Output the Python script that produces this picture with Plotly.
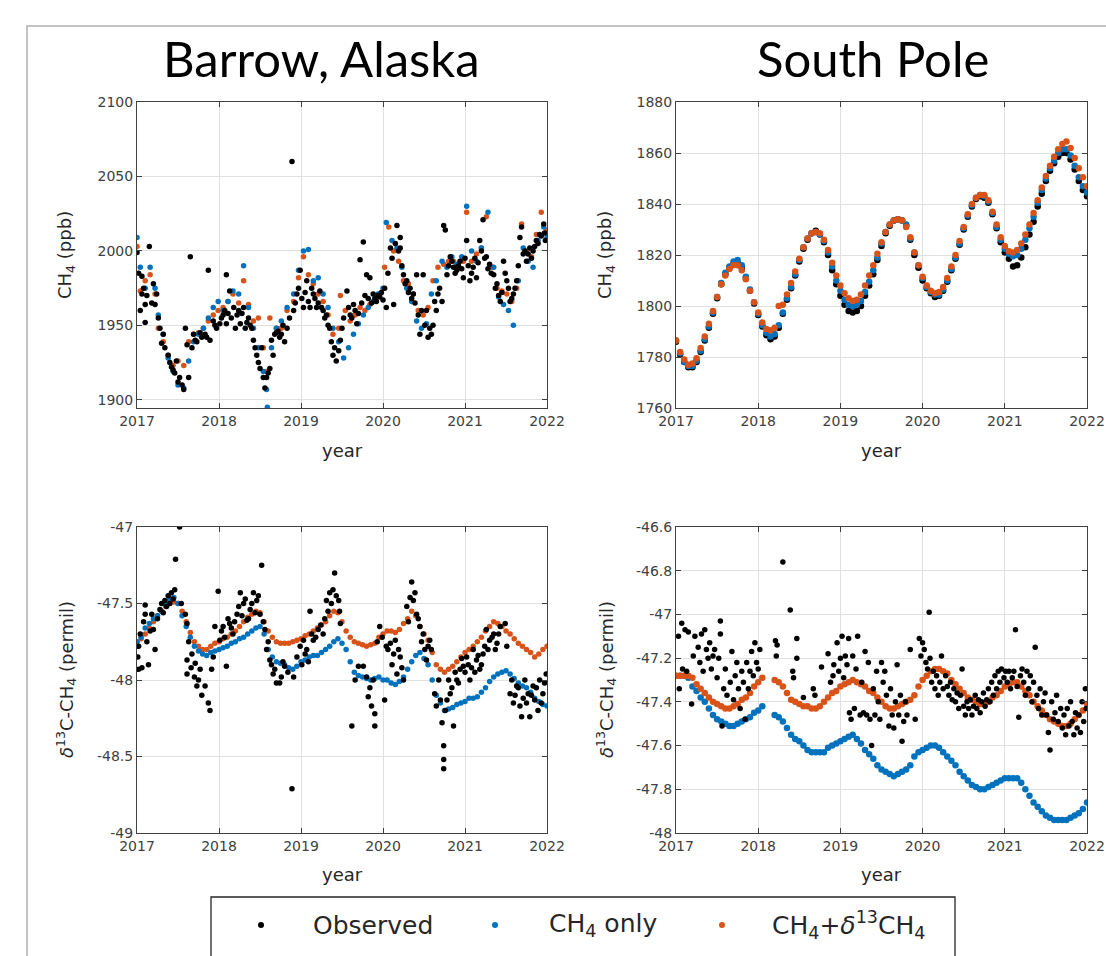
import plotly.graph_objects as go

# ---------------- DATA ----------------
years_tick = [2017, 2018, 2019, 2020, 2021, 2022]

# Barrow CH4 (ppb): (year, value)
brw_ch4_obs = [
    (2017.00, 1999), (2017.06, 1983), (2017.06, 1971), (2017.10, 1964), (2017.10, 1952), (2017.15, 2003),
    (2017.20, 1978), (2017.22, 1964), (2017.24, 1971), (2017.28, 1948), (2017.30, 1938), (2017.32, 1944),
    (2017.38, 1930), (2017.42, 1922), (2017.46, 1918), (2017.48, 1926), (2017.52, 1915), (2017.57, 1907),
    (2017.59, 1948), (2017.61, 1937), (2017.63, 1915), (2017.65, 1996), (2017.69, 1944), (2017.73, 1939),
    (2017.79, 1942), (2017.83, 1944), (2017.87, 1987), (2017.89, 1940), (2017.93, 1953), (2017.97, 1948),
    (2018.01, 1951), (2018.05, 1957), (2018.09, 1984), (2018.09, 1951), (2018.13, 1973), (2018.15, 1955),
    (2018.20, 1948), (2018.22, 1957), (2018.26, 1951), (2018.30, 1962), (2018.32, 1948), (2018.36, 1955),
    (2018.40, 1948), (2018.44, 1935), (2018.46, 1930), (2018.50, 1921), (2018.52, 1935), (2018.56, 1908),
    (2018.58, 1915), (2018.62, 1921), (2018.66, 1930), (2018.68, 1944), (2018.72, 1946), (2018.76, 1944),
    (2018.80, 1939), (2018.83, 1948), (2018.89, 2060), (2018.91, 1960), (2018.95, 1971), (2018.99, 1987),
    (2019.03, 1962), (2019.07, 1980), (2019.11, 1962), (2019.15, 1971), (2019.19, 1962), (2019.23, 1973),
    (2019.27, 1960), (2019.31, 1957), (2019.35, 1948), (2019.37, 1939), (2019.41, 1935), (2019.43, 1926),
    (2019.46, 1933), (2019.50, 1948), (2019.56, 1973), (2019.60, 1957), (2019.64, 1964), (2019.68, 1951),
    (2019.72, 1994), (2019.76, 2006), (2019.80, 1984), (2019.84, 1982), (2019.88, 1971), (2019.92, 1966),
    (2019.96, 1969), (2020.00, 1967), (2020.04, 1962), (2020.09, 2002), (2020.13, 1964), (2020.17, 2017),
    (2020.21, 2009), (2020.21, 2002), (2020.25, 1984), (2020.29, 1980), (2020.33, 1975), (2020.37, 1971),
    (2020.41, 1984), (2020.43, 1957), (2020.45, 1944), (2020.49, 1984), (2020.53, 1960), (2020.55, 1942),
    (2020.57, 1948), (2020.59, 1944), (2020.63, 1966), (2020.67, 1971), (2020.72, 1966), (2020.74, 2017),
    (2020.76, 2014), (2020.78, 1984), (2020.82, 1996), (2020.86, 1989), (2020.90, 1987), (2020.94, 1993),
    (2020.98, 1982), (2021.02, 2007), (2021.06, 1980), (2021.10, 1989), (2021.14, 1982), (2021.18, 2007),
    (2021.22, 2021), (2021.26, 1996), (2021.30, 1991), (2021.35, 1984), (2021.39, 1978), (2021.43, 1966),
    (2021.47, 1993), (2021.51, 1980), (2021.55, 1966), (2021.59, 1971), (2021.63, 1980), (2021.67, 2009),
    (2021.69, 2016), (2021.71, 1998), (2021.75, 1993), (2021.79, 2002), (2021.83, 2000), (2021.87, 2007),
    (2021.91, 2011), (2021.96, 2018), (2021.98, 2007),
    (2017.02, 1985), (2017.04, 1960), (2017.08, 1975), (2017.12, 1970), (2017.18, 1965), (2017.26, 1955),
    (2017.34, 1935), (2017.40, 1925), (2017.44, 1920), (2017.50, 1912), (2017.55, 1910), (2017.67, 1935),
    (2017.71, 1940), (2017.77, 1945), (2017.85, 1942), (2017.95, 1950), (2018.03, 1955), (2018.07, 1960),
    (2018.11, 1958), (2018.18, 1962), (2018.24, 1960), (2018.28, 1958), (2018.34, 1952), (2018.38, 1950),
    (2018.42, 1940), (2018.48, 1925), (2018.54, 1915), (2018.60, 1918), (2018.64, 1940), (2018.70, 1945),
    (2018.74, 1942), (2018.78, 1950), (2018.86, 1955), (2018.93, 1965), (2018.97, 1975), (2019.01, 1968),
    (2019.05, 1972), (2019.09, 1966), (2019.13, 1975), (2019.17, 1968), (2019.21, 1965), (2019.25, 1962),
    (2019.29, 1955), (2019.33, 1950), (2019.39, 1930), (2019.48, 1940), (2019.52, 1955), (2019.58, 1962),
    (2019.62, 1955), (2019.66, 1960), (2019.70, 1958), (2019.74, 1965), (2019.78, 1970), (2019.82, 1968),
    (2019.86, 1965), (2019.90, 1968), (2019.94, 1970), (2019.98, 1972), (2020.02, 1975), (2020.06, 1985),
    (2020.11, 1995), (2020.15, 2005), (2020.19, 2000), (2020.23, 1990), (2020.27, 1978), (2020.31, 1972),
    (2020.35, 1968), (2020.39, 1965), (2020.47, 1960), (2020.51, 1950), (2020.61, 1950), (2020.65, 1960),
    (2020.69, 1975), (2020.80, 1990), (2020.84, 1993), (2020.88, 1985), (2020.92, 1990), (2020.96, 1988),
    (2021.00, 1995), (2021.04, 1990), (2021.08, 1985), (2021.12, 1995), (2021.16, 1992), (2021.20, 2000),
    (2021.24, 1995), (2021.28, 1988), (2021.32, 1985), (2021.37, 1975), (2021.41, 1970), (2021.45, 1972),
    (2021.49, 1985), (2021.53, 1975), (2021.57, 1968), (2021.61, 1975), (2021.65, 1990), (2021.73, 2000),
    (2021.77, 1998), (2021.81, 1995), (2021.85, 2003), (2021.89, 2005), (2021.93, 2010), (2021.97, 2012),
]
brw_ch4_only = [
    (2017.00, 2009), (2017.04, 1989), (2017.10, 1975), (2017.16, 1989), (2017.22, 1975), (2017.26, 1957),
    (2017.32, 1944), (2017.38, 1928), (2017.44, 1919), (2017.50, 1910), (2017.57, 1908), (2017.63, 1926),
    (2017.69, 1939), (2017.75, 1944), (2017.81, 1948), (2017.87, 1955), (2017.93, 1962), (2017.99, 1966),
    (2018.05, 1960), (2018.11, 1966), (2018.17, 1973), (2018.24, 1971), (2018.30, 1990), (2018.36, 1962),
    (2018.42, 1948), (2018.48, 1935), (2018.54, 1919), (2018.58, 1907), (2018.59, 1895), (2018.64, 1935),
    (2018.70, 1948), (2018.76, 1953), (2018.83, 1962), (2018.91, 1971), (2018.97, 1987), (2019.03, 2000),
    (2019.09, 2001), (2019.15, 1980), (2019.21, 1982), (2019.27, 1971), (2019.33, 1962), (2019.39, 1948),
    (2019.46, 1939), (2019.52, 1928), (2019.58, 1935), (2019.64, 1944), (2019.70, 1951), (2019.76, 1957),
    (2019.82, 1962), (2019.88, 1966), (2019.94, 1971), (2020.00, 1975), (2020.04, 2019), (2020.11, 2007),
    (2020.17, 2002), (2020.23, 1989), (2020.29, 1975), (2020.35, 1966), (2020.41, 1953), (2020.47, 1948),
    (2020.53, 1951), (2020.59, 1971), (2020.65, 1980), (2020.72, 1993), (2020.78, 1989), (2020.84, 1996),
    (2020.90, 1991), (2020.96, 1996), (2021.02, 2030), (2021.08, 2000), (2021.14, 1993), (2021.20, 2002),
    (2021.28, 2026), (2021.35, 1989), (2021.41, 1969), (2021.47, 1964), (2021.53, 1960), (2021.59, 1950),
    (2021.65, 1980), (2021.71, 2002), (2021.77, 1993), (2021.83, 1989), (2021.89, 2007), (2021.96, 2016),
    (2022.00, 2009),
]
brw_ch4_both = [
    (2017.00, 2003), (2017.04, 1973), (2017.10, 1980), (2017.16, 1984), (2017.22, 1971), (2017.26, 1948),
    (2017.32, 1939), (2017.38, 1930), (2017.44, 1923), (2017.50, 1926), (2017.57, 1923), (2017.63, 1939),
    (2017.69, 1944), (2017.75, 1945), (2017.81, 1948), (2017.87, 1953), (2017.93, 1957), (2017.99, 1960),
    (2018.05, 1962), (2018.11, 1966), (2018.17, 1971), (2018.24, 1965), (2018.30, 1980), (2018.36, 1964),
    (2018.42, 1953), (2018.48, 1955), (2018.54, 1935), (2018.58, 1919), (2018.62, 1955), (2018.70, 1948),
    (2018.76, 1948), (2018.83, 1960), (2018.91, 1966), (2018.97, 1982), (2019.03, 1996), (2019.09, 1984),
    (2019.15, 1978), (2019.21, 1971), (2019.27, 1966), (2019.33, 1957), (2019.39, 1944), (2019.46, 1948),
    (2019.48, 1970), (2019.54, 1960), (2019.60, 1953), (2019.66, 1957), (2019.72, 1962), (2019.78, 1960),
    (2019.84, 1964), (2019.90, 1966), (2019.96, 1971), (2020.02, 1989), (2020.07, 2016), (2020.13, 2000),
    (2020.19, 1993), (2020.25, 1980), (2020.31, 1978), (2020.37, 1971), (2020.43, 1960), (2020.49, 1957),
    (2020.55, 1962), (2020.61, 1980), (2020.67, 1989), (2020.74, 1991), (2020.80, 1993), (2020.86, 1993),
    (2020.92, 1989), (2020.98, 1993), (2021.02, 2026), (2021.08, 1993), (2021.14, 1998), (2021.20, 2002),
    (2021.26, 2023), (2021.33, 1989), (2021.39, 1975), (2021.45, 1973), (2021.51, 1971), (2021.57, 1966),
    (2021.63, 1975), (2021.69, 2018), (2021.75, 2000), (2021.81, 1996), (2021.87, 2011), (2021.93, 2026),
    (2022.00, 2014),
]

# South Pole CH4 (ppb), sampled every 0.05 yr from 2017.00
spo_ch4_start = 2017.0
spo_ch4_obs = [
    1786, 1781, 1778, 1776, 1776, 1778, 1782, 1786.5, 1791.5, 1797,
    1803, 1808.5, 1812.5, 1815, 1816.5, 1817, 1815, 1811, 1806, 1801,
    1796.5, 1792, 1788.5, 1787, 1788, 1791.5, 1797, 1802.5, 1807, 1812,
    1817.5, 1822.5, 1826, 1828.5, 1829.5, 1828, 1825, 1820, 1814, 1808.5,
    1804, 1800.5, 1798, 1797.5, 1798, 1800, 1804, 1808, 1812.5, 1818,
    1823.5, 1828.5, 1831.5, 1833.5, 1834, 1833.5, 1831.5, 1826, 1820, 1815,
    1810, 1807, 1805, 1803.5, 1804, 1806, 1809.5, 1814, 1818.5, 1824,
    1830, 1835, 1839, 1842, 1843, 1842.5, 1840.5, 1836, 1830.5, 1825,
    1821, 1818.5, 1815.5, 1816, 1819, 1823, 1828, 1833, 1839, 1844,
    1849, 1853, 1856, 1858.5, 1860, 1860, 1857.5, 1853.5, 1849, 1845.5,
    1843,
]
spo_ch4_only = [
    1786.5, 1781.5, 1778, 1776.5, 1776.5, 1778.5, 1782.5, 1787, 1792, 1797.5,
    1803.5, 1809, 1813, 1815.5, 1817.5, 1818, 1816, 1811.5, 1806.5, 1801.5,
    1797, 1792.5, 1789.5, 1788, 1789, 1792.5, 1797.5, 1803, 1807.5, 1812.5,
    1818, 1823, 1826.5, 1828.5, 1829, 1828, 1825.5, 1821, 1815.5, 1810,
    1806, 1802.5, 1800.5, 1800, 1800.5, 1802, 1805.5, 1809.5, 1814, 1819,
    1824.5, 1829, 1832, 1833.5, 1834, 1833.5, 1832, 1826.5, 1821, 1816,
    1811, 1807.5, 1805.5, 1804.5, 1804.5, 1806.5, 1810, 1814.5, 1819, 1824.5,
    1830.5, 1835.5, 1839.5, 1842.5, 1843.5, 1843, 1841, 1836.5, 1831, 1826,
    1822.5, 1820.5, 1819.5, 1820, 1822.5, 1826, 1830.5, 1835, 1840.5, 1845.5,
    1850, 1854, 1857, 1860, 1861.5, 1861.5, 1859, 1855, 1850.5, 1847,
    1844.5,
]
spo_ch4_both = [
    1786.5, 1782, 1779, 1777, 1777.5, 1779.5, 1783.5, 1788, 1793, 1798,
    1803.5, 1808.5, 1812, 1814.5, 1816, 1816, 1814, 1810.5, 1806, 1801.5,
    1797.5, 1793.5, 1791, 1790.5, 1791.5, 1800, 1800.5, 1804.5, 1809, 1813.5,
    1818.5, 1823, 1826.5, 1828.5, 1829, 1828.5, 1826, 1822, 1817, 1812,
    1808, 1805, 1803, 1802, 1802.5, 1804.5, 1808, 1812, 1816, 1820.5,
    1825, 1829, 1832, 1833.5, 1834, 1833.5, 1831, 1827, 1821, 1816,
    1811.5, 1808, 1806, 1805, 1805.5, 1807.5, 1811, 1815.5, 1820, 1825.5,
    1831, 1836, 1840, 1842.5, 1843.5, 1843.5, 1841.5, 1837, 1832, 1827,
    1823.5, 1821.5, 1821, 1822, 1824.5, 1828, 1832, 1836.5, 1841.5, 1846.5,
    1851, 1855, 1858.5, 1861.5, 1863.5, 1864.5, 1862, 1858, 1854, 1850.5,
    1847,
]

# Barrow d13C-CH4 (permil)
brw_d13_obs = [
    (2017.02, -47.78), (2017.02, -47.93), (2017.06, -47.92), (2017.10, -47.51), (2017.10, -47.57),
    (2017.14, -47.90), (2017.18, -47.57), (2017.20, -47.67), (2017.22, -47.80), (2017.28, -47.54),
    (2017.30, -47.50), (2017.34, -47.48), (2017.38, -47.45), (2017.42, -47.43), (2017.46, -47.41),
    (2017.47, -47.21), (2017.52, -47.00), (2017.54, -47.50), (2017.59, -47.57), (2017.61, -47.63),
    (2017.61, -47.87), (2017.61, -47.96), (2017.67, -47.83), (2017.71, -47.89), (2017.73, -48.04),
    (2017.77, -47.93), (2017.79, -48.10), (2017.83, -48.04), (2017.87, -48.15), (2017.89, -48.20),
    (2017.91, -47.93), (2017.93, -47.85), (2017.95, -47.65), (2017.99, -47.42), (2018.01, -47.74),
    (2018.05, -47.65), (2018.09, -47.91), (2018.13, -47.63), (2018.17, -47.70), (2018.22, -47.57),
    (2018.26, -47.43), (2018.30, -47.50), (2018.34, -47.61), (2018.38, -47.54), (2018.42, -47.43),
    (2018.46, -47.48), (2018.50, -47.57), (2018.52, -47.25), (2018.56, -47.67), (2018.58, -47.80),
    (2018.62, -47.87), (2018.66, -47.96), (2018.70, -48.02), (2018.76, -47.98), (2018.80, -47.91),
    (2018.89, -48.71), (2018.91, -47.98), (2018.95, -47.85), (2018.99, -47.78), (2019.03, -47.74),
    (2019.07, -47.80), (2019.11, -47.55), (2019.15, -47.74), (2019.21, -47.67), (2019.27, -47.70),
    (2019.31, -47.48), (2019.35, -47.43), (2019.39, -47.41), (2019.41, -47.30), (2019.46, -47.48),
    (2019.48, -47.63), (2019.62, -48.30), (2019.66, -48.00), (2019.70, -47.91), (2019.76, -47.91),
    (2019.82, -48.11), (2019.86, -48.17), (2019.88, -48.00), (2019.90, -48.22), (2019.90, -48.30),
    (2019.96, -47.65), (2020.02, -48.13), (2020.04, -47.78), (2020.09, -47.76), (2020.13, -47.83),
    (2020.17, -47.96), (2020.21, -47.85), (2020.25, -48.00), (2020.29, -47.52), (2020.33, -47.46),
    (2020.35, -47.36), (2020.39, -47.43), (2020.41, -47.57), (2020.45, -47.65), (2020.49, -47.70),
    (2020.53, -47.87), (2020.57, -47.74), (2020.59, -47.80), (2020.63, -48.09), (2020.65, -48.17),
    (2020.70, -48.13), (2020.72, -48.28), (2020.74, -48.43), (2020.74, -48.52), (2020.74, -48.58),
    (2020.78, -48.13), (2020.82, -48.09), (2020.86, -48.30), (2020.90, -48.00), (2020.94, -47.93),
    (2020.98, -47.91), (2021.02, -47.85), (2021.06, -48.00), (2021.10, -47.80), (2021.14, -47.87),
    (2021.18, -47.93), (2021.22, -47.83), (2021.26, -47.67), (2021.30, -47.74), (2021.35, -47.70),
    (2021.39, -47.76), (2021.43, -47.65), (2021.49, -47.63), (2021.51, -47.78), (2021.55, -48.09),
    (2021.59, -48.15), (2021.63, -48.04), (2021.67, -48.17), (2021.69, -48.24), (2021.73, -48.00),
    (2021.77, -48.09), (2021.79, -48.24), (2021.83, -48.04), (2021.85, -48.13), (2021.89, -48.20),
    (2021.91, -48.00), (2021.95, -48.09), (2021.99, -47.96),
    (2017.01, -47.85), (2017.04, -47.70), (2017.08, -47.62), (2017.12, -47.75), (2017.16, -47.68),
    (2017.25, -47.60), (2017.32, -47.56), (2017.36, -47.52), (2017.40, -47.50), (2017.44, -47.47),
    (2017.63, -47.75), (2017.66, -47.92), (2017.70, -47.98), (2017.75, -48.00),
    (2018.03, -47.68), (2018.07, -47.72), (2018.11, -47.60), (2018.15, -47.66), (2018.19, -47.62),
    (2018.24, -47.52), (2018.28, -47.58), (2018.32, -47.47), (2018.36, -47.60), (2018.40, -47.50),
    (2018.44, -47.56), (2018.48, -47.45), (2018.54, -47.62), (2018.60, -47.75), (2018.64, -47.90),
    (2018.68, -47.93), (2018.74, -48.02), (2018.78, -47.88), (2018.84, -47.95),
    (2019.01, -47.90), (2019.05, -47.83), (2019.09, -47.88), (2019.13, -47.70), (2019.18, -47.72),
    (2019.24, -47.64), (2019.29, -47.60), (2019.33, -47.55), (2019.37, -47.50), (2019.43, -47.45),
    (2019.47, -47.55), (2019.80, -47.98), (2019.84, -48.05), (2019.93, -47.75), (2019.99, -47.72),
    (2020.06, -47.80), (2020.11, -47.90), (2020.15, -47.74), (2020.19, -47.80), (2020.23, -47.92),
    (2020.31, -47.62), (2020.37, -47.48), (2020.43, -47.60), (2020.47, -47.75), (2020.51, -47.80),
    (2020.55, -47.78), (2020.68, -48.00), (2020.76, -48.20), (2020.80, -48.00), (2020.84, -48.05),
    (2020.88, -47.95), (2020.92, -48.02), (2020.96, -47.86), (2021.00, -47.95), (2021.04, -47.90),
    (2021.08, -47.92), (2021.12, -47.95), (2021.16, -47.84), (2021.20, -47.90), (2021.24, -47.78),
    (2021.28, -47.80), (2021.33, -47.72), (2021.37, -47.80), (2021.41, -47.70), (2021.57, -48.00),
    (2021.61, -48.10), (2021.65, -48.05), (2021.71, -48.12), (2021.75, -48.15), (2021.81, -48.10),
    (2021.87, -48.05), (2021.93, -48.15), (2021.97, -48.02),
]
# Barrow model d13C, every 0.05 yr from 2017.00
brw_d13_start = 2017.0
brw_d13_only = [
    -47.75, -47.72, -47.66, -47.63, -47.60, -47.58, -47.55, -47.50, -47.47, -47.46,
    -47.50, -47.58, -47.65, -47.72, -47.78, -47.81, -47.83, -47.84, -47.82, -47.81,
    -47.80, -47.79, -47.78, -47.76, -47.75, -47.73, -47.72, -47.70, -47.68, -47.66,
    -47.65, -47.70, -47.80, -47.85, -47.88, -47.89, -47.90, -47.92, -47.93, -47.91,
    -47.88, -47.87, -47.85, -47.84, -47.84, -47.82, -47.80, -47.78, -47.75, -47.73,
    -47.76, -47.80, -47.88, -47.95, -47.97, -47.98, -47.99, -48.00, -47.99, -47.98,
    -48.00, -48.00, -48.02, -48.03, -48.01, -47.98, -47.93, -47.88, -47.84, -47.82,
    -47.86, -47.90, -48.00, -48.10, -48.15, -48.20, -48.19, -48.18, -48.16, -48.15,
    -48.14, -48.12, -48.12, -48.11, -48.08, -48.05, -48.01, -47.98, -47.96, -47.95,
    -47.94, -47.96, -47.99, -48.02, -48.04, -48.05, -48.08, -48.12, -48.14, -48.16,
    -48.17,
]
brw_d13_both = [
    -47.75, -47.73, -47.70, -47.66, -47.62, -47.58, -47.55, -47.52, -47.50, -47.49,
    -47.50, -47.55, -47.62, -47.69, -47.75, -47.78, -47.80, -47.80, -47.78, -47.76,
    -47.75, -47.73, -47.72, -47.70, -47.68, -47.65, -47.62, -47.59, -47.57, -47.55,
    -47.56, -47.62, -47.68, -47.72, -47.75, -47.76, -47.76, -47.76, -47.75, -47.74,
    -47.73, -47.71, -47.70, -47.68, -47.66, -47.64, -47.62, -47.58, -47.55, -47.56,
    -47.62, -47.68, -47.72, -47.75, -47.76, -47.77, -47.78, -47.77, -47.76, -47.72,
    -47.70, -47.68, -47.68, -47.69, -47.67, -47.63, -47.60, -47.55, -47.58, -47.65,
    -47.70, -47.74, -47.82, -47.90, -47.93, -47.95, -47.93, -47.91, -47.88, -47.85,
    -47.82, -47.80, -47.78, -47.75, -47.72, -47.68, -47.65, -47.62, -47.63, -47.65,
    -47.68, -47.70, -47.73, -47.76, -47.78, -47.80, -47.82, -47.85, -47.83, -47.80,
    -47.78,
]

# South Pole d13C-CH4 (permil)
spo_d13_obs = [
    (2017.03, -47.10), (2017.04, -47.34), (2017.07, -47.04), (2017.08, -47.25), (2017.11, -47.07),
    (2017.13, -47.26), (2017.15, -47.08), (2017.19, -47.41), (2017.21, -47.19), (2017.23, -47.10),
    (2017.27, -47.15), (2017.29, -47.22), (2017.31, -47.09), (2017.33, -47.26), (2017.35, -47.07),
    (2017.37, -47.16), (2017.39, -47.20), (2017.41, -47.13), (2017.43, -47.25), (2017.45, -47.19),
    (2017.47, -47.16), (2017.50, -47.29), (2017.52, -47.20), (2017.54, -47.03), (2017.54, -47.09),
    (2017.56, -47.51), (2017.58, -47.34), (2017.60, -47.25), (2017.62, -47.37), (2017.66, -47.31),
    (2017.68, -47.17), (2017.70, -47.39), (2017.72, -47.28), (2017.74, -47.22), (2017.76, -47.34),
    (2017.78, -47.43), (2017.80, -47.26), (2017.82, -47.31), (2017.84, -47.48), (2017.86, -47.22),
    (2017.88, -47.34), (2017.90, -47.26), (2017.92, -47.17), (2017.94, -47.28), (2017.96, -47.13),
    (2017.98, -47.22), (2018.00, -47.25), (2018.02, -47.16), (2018.21, -47.12), (2018.22, -47.19),
    (2018.23, -47.14), (2018.30, -46.76), (2018.39, -46.98), (2018.42, -47.26), (2018.43, -47.29),
    (2018.47, -47.11), (2018.47, -47.20), (2018.55, -47.38), (2018.67, -47.34), (2018.69, -47.37),
    (2018.77, -47.24), (2018.85, -47.18), (2018.88, -47.31), (2018.91, -47.28), (2018.92, -47.23),
    (2018.96, -47.13), (2018.98, -47.26), (2019.00, -47.20), (2019.02, -47.10), (2019.04, -47.29),
    (2019.06, -47.19), (2019.08, -47.23), (2019.10, -47.11), (2019.11, -47.45), (2019.13, -47.48),
    (2019.15, -47.19), (2019.17, -47.43), (2019.19, -47.25), (2019.21, -47.10), (2019.24, -47.46),
    (2019.26, -47.31), (2019.28, -47.45), (2019.30, -47.17), (2019.32, -47.46), (2019.34, -47.22),
    (2019.36, -47.48), (2019.38, -47.60), (2019.40, -47.34), (2019.42, -47.46), (2019.44, -47.26),
    (2019.46, -47.40), (2019.48, -47.48), (2019.50, -47.22), (2019.52, -47.31), (2019.54, -47.26),
    (2019.56, -47.37), (2019.59, -47.51), (2019.61, -47.34), (2019.63, -47.46), (2019.65, -47.52),
    (2019.67, -47.40), (2019.69, -47.23), (2019.71, -47.46), (2019.73, -47.37), (2019.75, -47.58),
    (2019.77, -47.49), (2019.79, -47.40), (2019.81, -47.46), (2019.85, -47.16), (2019.91, -47.48),
    (2019.96, -47.11), (2019.98, -47.19), (2020.00, -47.13), (2020.02, -47.16), (2020.04, -47.22),
    (2020.06, -47.25), (2020.08, -46.99), (2020.09, -47.20), (2020.11, -47.31), (2020.13, -47.26),
    (2020.15, -47.34), (2020.17, -47.28), (2020.19, -47.37), (2020.21, -47.31), (2020.23, -47.19),
    (2020.25, -47.34), (2020.28, -47.28), (2020.30, -47.33), (2020.32, -47.37), (2020.34, -47.31),
    (2020.36, -47.39), (2020.38, -47.34), (2020.40, -47.40), (2020.42, -47.36), (2020.44, -47.43),
    (2020.46, -47.37), (2020.48, -47.25), (2020.50, -47.42), (2020.52, -47.46), (2020.54, -47.40),
    (2020.56, -47.43), (2020.58, -47.39), (2020.60, -47.46), (2020.62, -47.42), (2020.64, -47.37),
    (2020.66, -47.43), (2020.68, -47.39), (2020.70, -47.45), (2020.72, -47.40), (2020.74, -47.36),
    (2020.76, -47.42), (2020.78, -47.39), (2020.80, -47.34), (2020.82, -47.40), (2020.84, -47.31),
    (2020.86, -47.37), (2020.88, -47.28), (2020.90, -47.34), (2020.92, -47.26), (2020.94, -47.31),
    (2020.96, -47.25), (2020.99, -47.29), (2021.01, -47.26), (2021.03, -47.31), (2021.05, -47.26),
    (2021.07, -47.34), (2021.09, -47.29), (2021.11, -47.26), (2021.13, -47.07), (2021.15, -47.33),
    (2021.17, -47.47), (2021.19, -47.28), (2021.21, -47.25), (2021.23, -47.31), (2021.25, -47.37),
    (2021.27, -47.26), (2021.29, -47.34), (2021.31, -47.28), (2021.33, -47.40), (2021.35, -47.31),
    (2021.37, -47.15), (2021.39, -47.37), (2021.41, -47.43), (2021.43, -47.34), (2021.45, -47.46),
    (2021.47, -47.40), (2021.49, -47.36), (2021.51, -47.46), (2021.53, -47.54), (2021.55, -47.62),
    (2021.57, -47.40), (2021.59, -47.48), (2021.61, -47.45), (2021.63, -47.37), (2021.65, -47.49),
    (2021.68, -47.43), (2021.70, -47.52), (2021.72, -47.46), (2021.74, -47.55), (2021.76, -47.43),
    (2021.78, -47.51), (2021.80, -47.40), (2021.82, -47.49), (2021.84, -47.55), (2021.86, -47.45),
    (2021.88, -47.52), (2021.90, -47.46), (2021.92, -47.54), (2021.94, -47.40), (2021.96, -47.49),
    (2021.98, -47.34), (2021.99, -47.43),
]
# South Pole model d13C: segment A every 0.05 yr from 2017.00, segment B every 0.05 yr from 2018.20
spo_d13_startA = 2017.0
spo_d13_startB = 2018.2
spo_d13_both_A = [
    -47.28, -47.28, -47.28, -47.28, -47.29, -47.32, -47.34, -47.36, -47.38, -47.40,
    -47.41, -47.42, -47.43, -47.43, -47.42, -47.41, -47.39, -47.38, -47.36, -47.33,
    -47.31, -47.29,
]
spo_d13_both_B = [
    -47.30, -47.31, -47.33, -47.36, -47.39, -47.40, -47.41, -47.42, -47.42, -47.43,
    -47.43, -47.42, -47.40, -47.38, -47.36, -47.35, -47.33, -47.32, -47.31, -47.30,
    -47.31, -47.32, -47.33, -47.35, -47.36, -47.38, -47.40, -47.42, -47.43, -47.43,
    -47.42, -47.41, -47.40, -47.39, -47.37, -47.33, -47.30, -47.28, -47.26, -47.25,
    -47.25, -47.26, -47.27, -47.30, -47.32, -47.34, -47.36, -47.38, -47.39, -47.40,
    -47.41, -47.41, -47.40, -47.38, -47.37, -47.35, -47.33, -47.32, -47.31, -47.31,
    -47.33, -47.35, -47.37, -47.40, -47.42, -47.44, -47.46, -47.48, -47.49, -47.50,
    -47.51, -47.51, -47.50, -47.48, -47.46, -47.44, -47.41,
]
spo_d13_only_A = [
    -47.28, -47.28, -47.28, -47.29, -47.33, -47.35, -47.38, -47.40, -47.43, -47.46,
    -47.48, -47.49, -47.50, -47.51, -47.51, -47.50, -47.49, -47.48, -47.47, -47.45,
    -47.44, -47.42,
]
spo_d13_only_B = [
    -47.46, -47.47, -47.49, -47.52, -47.55, -47.57, -47.58, -47.60, -47.62, -47.63,
    -47.63, -47.63, -47.63, -47.61, -47.60, -47.59, -47.58, -47.57, -47.56, -47.55,
    -47.57, -47.59, -47.62, -47.64, -47.66, -47.69, -47.71, -47.72, -47.73, -47.74,
    -47.73, -47.72, -47.71, -47.69, -47.65, -47.63, -47.62, -47.61, -47.60, -47.60,
    -47.61, -47.63, -47.65, -47.67, -47.69, -47.72, -47.74, -47.76, -47.78, -47.79,
    -47.80, -47.80, -47.79, -47.78, -47.77, -47.76, -47.75, -47.75, -47.75, -47.75,
    -47.77, -47.80, -47.83, -47.86, -47.88, -47.90, -47.92, -47.93, -47.94, -47.94,
    -47.94, -47.94, -47.93, -47.92, -47.91, -47.89, -47.86,
]

series_names = ["Observed", "CH<sub>4</sub> only", "CH<sub>4</sub>+<i>δ</i><sup>13</sup>CH<sub>4</sub>"]
panel_titles = ["Barrow, Alaska", "South Pole"]

# ---------------- HELPERS ----------------
def unzip(pairs):
    return [p[0] for p in pairs], [p[1] for p in pairs]

def grid(start, values):
    return [round(start + 0.05 * i, 2) for i in range(len(values))]

C_OBS = "#000000"
C_ONLY = "#0072BD"
C_BOTH = "#D95319"
MS = 5.5
MS_DENSE = 6.5

W, H = 1106, 956
def px(x):
    return x / W
def py(y):
    return 1 - y / H

fig = go.Figure()

def add(x, y, color, xa, ya, name, size=MS):
    fig.add_trace(go.Scatter(
        x=x, y=y, mode="markers", xaxis=xa, yaxis=ya, name=name, showlegend=False,
        marker=dict(color=color, size=size, line=dict(width=0)),
    ))

# Panel 1: Barrow CH4
x, y = unzip(brw_ch4_both); add(x, y, C_BOTH, "x", "y", series_names[2])
x, y = unzip(brw_ch4_only); add(x, y, C_ONLY, "x", "y", series_names[1])
x, y = unzip(brw_ch4_obs); add(x, y, C_OBS, "x", "y", series_names[0])
# Panel 2: South Pole CH4
add(grid(spo_ch4_start, spo_ch4_obs), spo_ch4_obs, C_OBS, "x2", "y2", series_names[0], MS_DENSE)
add(grid(spo_ch4_start, spo_ch4_only), spo_ch4_only, C_ONLY, "x2", "y2", series_names[1], MS_DENSE)
add(grid(spo_ch4_start, spo_ch4_both), spo_ch4_both, C_BOTH, "x2", "y2", series_names[2], MS_DENSE)
# Panel 3: Barrow d13C
add(grid(brw_d13_start, brw_d13_both), brw_d13_both, C_BOTH, "x3", "y3", series_names[2])
add(grid(brw_d13_start, brw_d13_only), brw_d13_only, C_ONLY, "x3", "y3", series_names[1])
x, y = unzip(brw_d13_obs); add(x, y, C_OBS, "x3", "y3", series_names[0])
# Panel 4: South Pole d13C
add(grid(spo_d13_startA, spo_d13_only_A) + grid(spo_d13_startB, spo_d13_only_B),
    spo_d13_only_A + spo_d13_only_B, C_ONLY, "x4", "y4", series_names[1], MS_DENSE)
add(grid(spo_d13_startA, spo_d13_both_A) + grid(spo_d13_startB, spo_d13_both_B),
    spo_d13_both_A + spo_d13_both_B, C_BOTH, "x4", "y4", series_names[2], MS_DENSE)
x, y = unzip(spo_d13_obs); add(x, y, C_OBS, "x4", "y4", series_names[0])

AX_COL = "#404040"
TICKFONT = dict(family="DejaVu Sans", size=14, color=AX_COL)
GRID = "#e0e0e0"

def xaxis(domain, anchor):
    return dict(domain=domain, anchor=anchor, range=[2017, 2022], tickvals=years_tick,
                ticktext=[str(v) for v in years_tick], showline=True, mirror="ticks",
                linecolor=AX_COL, linewidth=1, ticks="inside", ticklen=5, tickcolor=AX_COL,
                showgrid=True, gridcolor=GRID, zeroline=False, tickfont=TICKFONT, fixedrange=True)

def yaxis(domain, anchor, rng, vals, texts):
    return dict(domain=domain, anchor=anchor, range=rng, tickvals=vals, ticktext=texts,
                showline=True, mirror="ticks", linecolor=AX_COL, linewidth=1, ticks="inside",
                ticklen=5, tickcolor=AX_COL, showgrid=True, gridcolor=GRID, zeroline=False,
                tickfont=TICKFONT, fixedrange=True)

XL = [px(137), px(547)]
XR = [px(676), px(1087)]
YT = [py(408), py(102)]
YB = [py(833), py(527)]

brw_ch4_ticks = [1900, 1950, 2000, 2050, 2100]
spo_ch4_ticks = [1760, 1780, 1800, 1820, 1840, 1860, 1880]
brw_d13_ticks = [-49, -48.5, -48, -47.5, -47]
spo_d13_ticks = [-48, -47.8, -47.6, -47.4, -47.2, -47, -46.8, -46.6]

def fmt(v):
    return "%g" % v

annotations = []
for t, cx in zip(panel_titles, [321, 873]):
    annotations.append(dict(text=t, x=px(cx), y=py(58), xref="paper", yref="paper",
                            showarrow=False, xanchor="center", yanchor="middle",
                            font=dict(family="Lato", size=49, color="#000000")))
LABFONT = dict(family="DejaVu Sans", size=18, color="#262626")
for cx in [342, 881]:
    for cy in [450, 874]:
        annotations.append(dict(text="year", x=px(cx), y=py(cy), xref="paper", yref="paper",
                                showarrow=False, xanchor="center", yanchor="middle", font=LABFONT))
for cx in [66, 606]:
    annotations.append(dict(text="CH<sub>4</sub> (ppb)", x=px(cx), y=py(255), xref="paper", yref="paper",
                            showarrow=False, textangle=-90, xanchor="center", yanchor="middle", font=LABFONT))
    annotations.append(dict(text="<i>δ</i><sup>13</sup>C-CH<sub>4</sub> (permil)", x=px(cx), y=py(680),
                            xref="paper", yref="paper", showarrow=False, textangle=-90,
                            xanchor="center", yanchor="middle", font=LABFONT))

# Legend (drawn manually so the box can run past the bottom edge like the reference)
legend_colors = [C_OBS, C_ONLY, C_BOTH]
legend_dot_x = [261, 495, 722]
legend_text_x = [311, 547, 770]
LEG_Y = 925
LEGFONT = dict(family="DejaVu Sans", size=25, color="#262626")
shapes = [
    dict(type="rect", xref="paper", yref="paper", x0=px(27), x1=1.2, y0=-0.2, y1=py(26),
         line=dict(color="#b0b0b0", width=1.5), layer="below"),
    dict(type="rect", xref="paper", yref="paper", x0=px(211), x1=px(955), y0=-0.1, y1=py(897),
         line=dict(color="#262626", width=1.3), fillcolor="white", layer="below"),
]
for name, col, dx, tx in zip(series_names, legend_colors, legend_dot_x, legend_text_x):
    shapes.append(dict(type="circle", xref="paper", yref="paper",
                       x0=px(dx - 3), x1=px(dx + 3), y0=py(LEG_Y + 3), y1=py(LEG_Y - 3),
                       fillcolor=col, line=dict(width=0)))
    annotations.append(dict(text=name, x=px(tx), y=py(LEG_Y), xref="paper", yref="paper",
                            showarrow=False, xanchor="left", yanchor="middle", font=LEGFONT))

fig.update_layout(
    width=W, height=H,
    margin=dict(l=0, r=0, t=0, b=0, autoexpand=False),
    paper_bgcolor="white", plot_bgcolor="white",
    xaxis=xaxis(XL, "y"), yaxis=yaxis(YT, "x", [1894.5, 2100], brw_ch4_ticks, [fmt(v) for v in brw_ch4_ticks]),
    xaxis2=xaxis(XR, "y2"), yaxis2=yaxis(YT, "x2", [1760, 1880], spo_ch4_ticks, [fmt(v) for v in spo_ch4_ticks]),
    xaxis3=xaxis(XL, "y3"), yaxis3=yaxis(YB, "x3", [-49, -47], brw_d13_ticks, [fmt(v) for v in brw_d13_ticks]),
    xaxis4=xaxis(XR, "y4"), yaxis4=yaxis(YB, "x4", [-48, -46.6], spo_d13_ticks, [fmt(v) for v in spo_d13_ticks]),
    annotations=annotations, shapes=shapes,
    showlegend=False,
)

fig.write_html("out.html", config={"displayModeBar": False},
               post_script="document.body.style.margin='0px';")
